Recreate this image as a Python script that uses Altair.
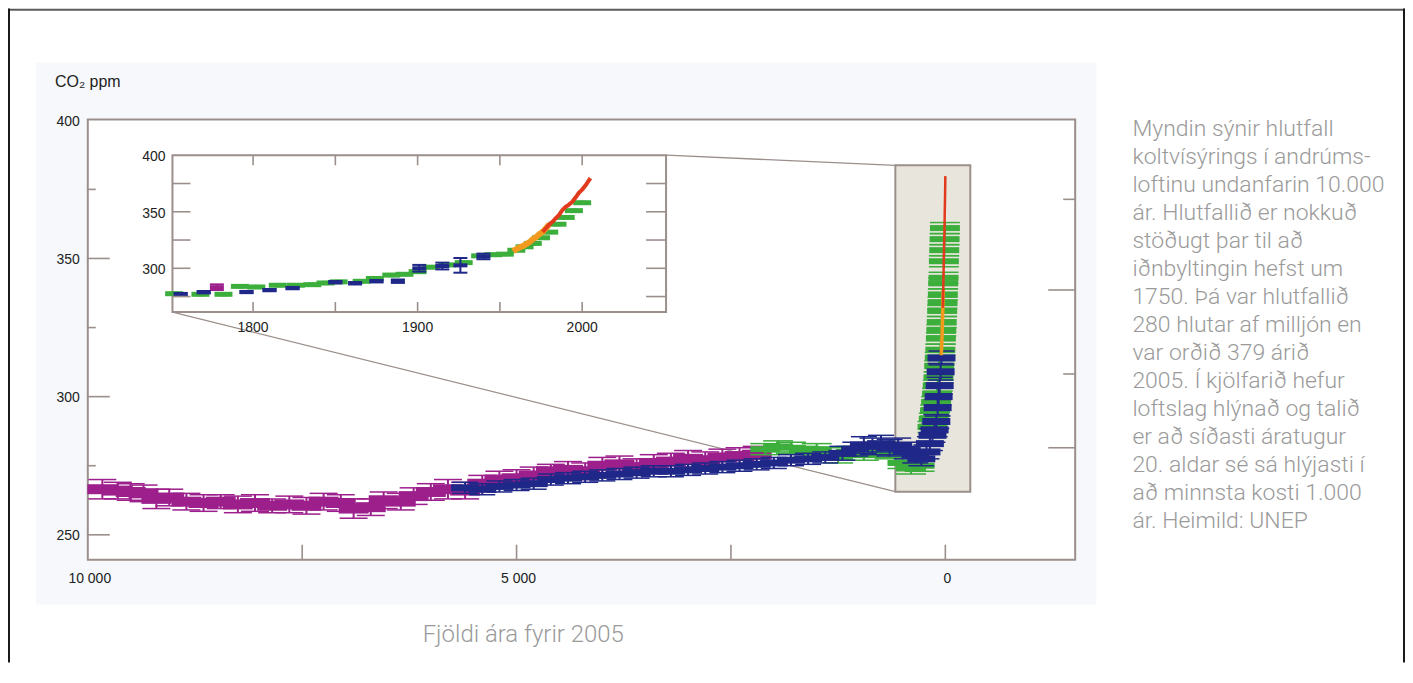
import altair as alt
import pandas as pd

# ------------------------------------------------------------------ data
# Main panel: age = years before 2005, CO2 in ppm, err = half height of bar
MAG_AGE = [9830, 9650, 9500, 9350, 9200, 9050, 8850, 8650, 8450, 8250,
           8050, 7850, 7650, 7450, 7250, 7050, 6900, 6700, 6550, 6350,
           6200, 6000, 5800, 5600, 5400, 5200, 5000, 4800, 4600, 4400,
           4200, 4000, 3800, 3600, 3400, 3200, 3000, 2800, 2600, 2400, 2200]
MAG_CO2 = [266.5, 266, 265.5, 265, 263, 263.5, 262, 261.5, 262, 261,
           261.5, 260.5, 261, 260.5, 262, 261.5, 259.5, 260, 262.5, 262,
           264, 265.5, 266.5, 266, 268.5, 270, 270.5, 271.5, 273, 273.5,
           273, 275, 275.5, 274.5, 276, 276.5, 277.5, 277, 278, 278.5, 279]
MAG_ERR = [3.5, 3, 3, 3, 3.5, 3, 3, 3, 2.5, 3,
           3, 2.5, 3, 3, 3, 3, 3.5, 3, 3, 3,
           3, 3, 3.5, 3, 3, 3, 3, 3, 2.5, 3,
           3, 3, 3, 3, 3, 3, 3, 3, 3, 3, 3]

BLU_AGE = [5600, 5400, 5200, 5000, 4800, 4600, 4400, 4200, 4000, 3800,
           3600, 3400, 3200, 3000, 2800, 2600, 2400, 2200, 2000, 1800,
           1600, 1400, 1200, 1050, 950, 850, 750, 650, 550, 450,
           350, 280, 220, 180, 150, 125, 105, 90, 78, 66, 55, 45]
BLU_CO2 = [267, 266.5, 267.5, 268, 268.5, 270, 270.5, 271, 271.5, 272,
           272.5, 273, 273, 273.5, 274, 274.5, 275, 275.5, 276, 277,
           277.5, 278, 279.5, 281, 282.5, 282, 283, 281.5, 282, 280.5,
           279, 277.5, 280, 283, 286, 288, 291, 296, 300, 304, 309, 314]
BLU_ERR = [2, 2, 2, 2, 2, 2, 2, 2, 2, 2,
           2, 2, 2, 2, 2, 2, 2, 2, 2, 2,
           2, 2, 2.5, 2.5, 3, 3, 3, 3, 3, 3,
           3, 2.5, 2.5, 2.5, 2.5, 2.5, 2.5, 3, 3, 3, 3, 2.5]

GRN_AGE = [2100, 1950, 1800, 1650, 1500, 1350, 1250, 1100, 950, 800,
           650, 500, 400, 300, 150, 135, 120, 108, 97, 88,
           80, 72, 65, 58, 52, 47, 42, 37, 33, 29,
           25, 21, 17, 13, 9, 5]
GRN_CO2 = [281, 282, 281.5, 280, 281, 279.5, 278, 280, 279, 280,
           279.5, 276, 274, 275, 289, 292, 295, 298, 301, 304,
           307, 311, 314, 317, 321, 324, 327, 331, 334, 337,
           341, 343, 349, 353, 357, 361]
GRN_ERR = [2, 2, 2, 2, 2, 2, 2, 2, 2, 2,
           2, 2, 2, 2, 2, 2, 2, 2, 2, 2,
           2, 2, 2, 2, 2, 2, 2, 2, 2, 2,
           2, 2, 2, 2, 2, 2]

# Direct atmospheric measurements (calendar years), used in both panels
ORG_YEAR = [1958, 1960, 1962, 1964, 1966, 1968, 1970, 1972, 1974, 1976, 1978, 1980]
ORG_CO2 = [315.0, 316.9, 318.4, 319.6, 321.4, 323.1, 325.7, 327.5, 330.2, 332.2, 335.4, 338.7]
RED_YEAR = [1976, 1978, 1980, 1982, 1984, 1986, 1988, 1990, 1992, 1994, 1996, 1998, 2000, 2002, 2004, 2005]
RED_CO2 = [332.2, 335.4, 338.7, 341.1, 344.4, 347.2, 351.6, 354.4, 356.4, 358.8, 362.6, 366.7, 369.6, 373.2, 377.5, 379.8]

# Inset panel (calendar years)
IN_BLU_YEAR = [1756, 1770, 1796, 1810, 1824, 1850, 1862, 1875, 1888, 1901, 1915, 1926, 1940]
IN_BLU_CO2 = [277.2, 278.9, 279, 280.7, 282.5, 287.7, 286.8, 288.6, 288.6, 300, 302, 302.6, 310.5]
IN_BLU_ERR = [1, 1, 1, 1, 1, 1, 1, 1, 1.5, 3, 3, 6.5, 2.5]
IN_MAG_YEAR = [1778]
IN_MAG_CO2 = [283.3]
IN_MAG_ERR = [2.5]
IN_GRN_YEAR = [1752, 1768, 1782, 1792, 1802, 1815, 1826, 1836, 1844, 1852,
               1866, 1874, 1884, 1892, 1900, 1908, 1918, 1928, 1938, 1946,
               1953, 1960, 1965, 1970, 1975, 1980, 1985, 1990, 1995, 2000]
IN_GRN_CO2 = [277.5, 277, 277, 284, 283.5, 285, 285, 285.5, 287, 288,
              288.5, 291, 294, 294.7, 297, 301, 303, 305, 311, 312,
              312.5, 316, 319, 322, 327, 332, 339, 345, 351, 358]
IN_GRN_ERR = [1, 1, 1, 1, 1, 1, 1, 1, 1, 1,
              1, 1, 1, 1, 1, 1, 1, 1, 1, 1,
              1, 1, 1, 1, 1, 1, 1, 1, 1, 1]

# Axes / ticks
MAIN_Y_LABELS = [250, 300, 350, 400]
MAIN_Y_MAJOR = [250, 300, 350]
MAIN_Y_MINOR = [275, 325, 375]
MAIN_X_LABELS = [10000, 5000, 0]
MAIN_X_TICKS = [7500, 5000, 2500, 0]
RIGHT_MAJOR = [281.5, 338.6]
RIGHT_MINOR = [308.2, 371.4]
INSET_Y_LABELS = [300, 350, 400]
INSET_Y_TICKS = [275, 300, 325, 350, 375]
INSET_X_LABELS = [1800, 1900, 2000]
INSET_X_TICKS = [1800, 1850, 1900, 1950, 2000]

# Zoom box in the main panel (age, ppm) and the connector lines to the inset
ZOOM_AGE = [583, -291]
ZOOM_PPM = [265.6, 383.7]
CONN_AGE0 = [9012, 3257]
CONN_PPM0 = [330.6, 387.4]
CONN_AGE1 = [583, 583]
CONN_PPM1 = [265.6, 383.7]

Y_TITLE = "CO\u2082 ppm"
X_TITLE = "Fjöldi ára fyrir 2005"
PARAGRAPH_LINES = [
    "Myndin sýnir hlutfall",
    "koltvísýrings í andrúms-",
    "loftinu undanfarin 10.000",
    "ár. Hlutfallið er nokkuð",
    "stöðugt þar til að",
    "iðnbyltingin hefst um",
    "1750. Þá var hlutfallið",
    "280 hlutar af milljón en",
    "var orðið 379 árið",
    "2005. Í kjölfarið hefur",
    "loftslag hlýnað og talið",
    "er að síðasti áratugur",
    "20. aldar sé sá hlýjasti í",
    "að minnsta kosti 1.000",
    "ár. Heimild: UNEP",
]

# ------------------------------------------------------------------ layout / style
W, H = 1399, 655
MAIN_AGE_DOMAIN = [10000, -1514]
MAIN_PPM_DOMAIN = [241, 400.25]
MAIN_X_RANGE = [79.9, 1068.7]
MAIN_Y_RANGE = [552, 111.3]
INSET_YEAR_DOMAIN = [1751, 2051]
INSET_PPM_DOMAIN = [261.3, 400]
INSET_X_RANGE = [164.7, 659]
INSET_Y_RANGE = [304, 147]

FRAME = "#9b8f8b"
BOXFILL = "#e8e5dd"
MAGENTA = "#9c1f8c"
NAVY = "#1f2888"
GREEN = "#3cae3c"
ORANGE = "#f29a1e"
RED = "#e23a1c"
LABEL_FONT = "Liberation Sans"
TEXT_FONT = "Roboto"
GREY_TEXT = "#9a9a9a"
LABEL_COLOR = "#222222"

xs = alt.Scale(domain=MAIN_AGE_DOMAIN, range=MAIN_X_RANGE, nice=False, zero=False)
ys = alt.Scale(domain=MAIN_PPM_DOMAIN, range=MAIN_Y_RANGE, nice=False, zero=False)
ixs = alt.Scale(domain=INSET_YEAR_DOMAIN, range=INSET_X_RANGE, nice=False, zero=False)
iys = alt.Scale(domain=INSET_PPM_DOMAIN, range=INSET_Y_RANGE, nice=False, zero=False)


def errorbars(df, xfield, sx, sy, color, body_w, body_t, cap_w, cap_t, stem_w):
    base = alt.Chart(df).transform_calculate(lo="datum.co2 - datum.err",
                                             hi="datum.co2 + datum.err")
    X = alt.X(f"{xfield}:Q", scale=sx, axis=None)
    stem = base.mark_rule(color=color, strokeWidth=stem_w).encode(
        x=X, y=alt.Y("lo:Q", scale=sy, axis=None), y2="hi:Q")
    caps = base.transform_fold(["lo", "hi"], as_=["k", "cap"]).mark_tick(
        orient="horizontal", size=cap_w, thickness=cap_t, color=color, opacity=1).encode(
        x=X, y=alt.Y("cap:Q", scale=sy, axis=None))
    body = base.mark_tick(orient="horizontal", size=body_w, thickness=body_t,
                          color=color, opacity=1).encode(
        x=X, y=alt.Y("co2:Q", scale=sy, axis=None))
    return [stem, caps, body]


def edge_ticks(values, along, sx, sy, edge_value, size, offset):
    df = pd.DataFrame({"v": values})
    if along == "y":
        return alt.Chart(df).mark_tick(orient="horizontal", size=size, thickness=1.6,
                                       color=FRAME, opacity=1, xOffset=offset).encode(
            x=alt.XDatum(edge_value, scale=sx, axis=None),
            y=alt.Y("v:Q", scale=sy, axis=None))
    return alt.Chart(df).mark_tick(orient="vertical", size=size, thickness=1.6,
                                   color=FRAME, opacity=1, yOffset=offset).encode(
        x=alt.X("v:Q", scale=sx, axis=None),
        y=alt.YDatum(edge_value, scale=sy, axis=None))


def edge_labels(values, along, sx, sy, edge_value, dx, dy, expr):
    df = pd.DataFrame({"v": values})
    base = alt.Chart(df).transform_calculate(lab=expr)
    if along == "y":
        return base.mark_text(font=LABEL_FONT, fontSize=14, color=LABEL_COLOR,
                              align="right", baseline="middle", dx=dx, dy=dy).encode(
            x=alt.XDatum(edge_value, scale=sx, axis=None),
            y=alt.Y("v:Q", scale=sy, axis=None), text="lab:N")
    return base.mark_text(font=LABEL_FONT, fontSize=14, color=LABEL_COLOR,
                          align="center", baseline="middle", dx=dx, dy=dy).encode(
        x=alt.X("v:Q", scale=sx, axis=None),
        y=alt.YDatum(edge_value, scale=sy, axis=None), text="lab:N")


# ------------------------------------------------------------------ main panel
main_frame_df = pd.DataFrame({"a0": [MAIN_AGE_DOMAIN[0]], "a1": [MAIN_AGE_DOMAIN[1]],
                              "p0": [MAIN_PPM_DOMAIN[0]], "p1": [MAIN_PPM_DOMAIN[1]]})
main_frame = alt.Chart(main_frame_df).mark_rect(fill="white", stroke=FRAME, strokeWidth=2).encode(
    x=alt.X("a0:Q", scale=xs, axis=None), x2="a1:Q",
    y=alt.Y("p0:Q", scale=ys, axis=None), y2="p1:Q")

zoom_df = pd.DataFrame({"a0": [ZOOM_AGE[0]], "a1": [ZOOM_AGE[1]],
                        "p0": [ZOOM_PPM[0]], "p1": [ZOOM_PPM[1]]})
zoom_box = alt.Chart(zoom_df).mark_rect(fill=BOXFILL, stroke=FRAME, strokeWidth=2).encode(
    x=alt.X("a0:Q", scale=xs, axis=None), x2="a1:Q",
    y=alt.Y("p0:Q", scale=ys, axis=None), y2="p1:Q")

conn_df = pd.DataFrame({"a0": CONN_AGE0, "p0": CONN_PPM0, "a1": CONN_AGE1, "p1": CONN_PPM1})
connectors = alt.Chart(conn_df).mark_rule(color=FRAME, strokeWidth=1.3).encode(
    x=alt.X("a0:Q", scale=xs, axis=None), x2="a1:Q",
    y=alt.Y("p0:Q", scale=ys, axis=None), y2="p1:Q")

mag_df = pd.DataFrame({"age": MAG_AGE, "co2": MAG_CO2, "err": MAG_ERR})
blu_df = pd.DataFrame({"age": BLU_AGE, "co2": BLU_CO2, "err": BLU_ERR})
grn_df = pd.DataFrame({"age": GRN_AGE, "co2": GRN_CO2, "err": GRN_ERR})
org_df = pd.DataFrame({"year": ORG_YEAR, "co2": ORG_CO2})
red_df = pd.DataFrame({"year": RED_YEAR, "co2": RED_CO2})

main_org = alt.Chart(org_df).transform_calculate(age="2005 - datum.year").mark_line(
    color=ORANGE, strokeWidth=3.5).encode(
    x=alt.X("age:Q", scale=xs, axis=None), y=alt.Y("co2:Q", scale=ys, axis=None), order="year:Q")
main_red = alt.Chart(red_df).transform_calculate(age="2005 - datum.year").mark_line(
    color=RED, strokeWidth=2.5).encode(
    x=alt.X("age:Q", scale=xs, axis=None), y=alt.Y("co2:Q", scale=ys, axis=None), order="year:Q")

main_layers = [main_frame, zoom_box, connectors]
main_layers += errorbars(mag_df, "age", xs, ys, MAGENTA, 30, 10, 28, 1.5, 2)
main_layers += errorbars(grn_df, "age", xs, ys, GREEN, 30, 6, 30, 1.5, 2)
main_layers += errorbars(blu_df, "age", xs, ys, NAVY, 28, 7, 26, 1.5, 2)
main_layers += [main_org, main_red]
main_layers += [
    edge_ticks(MAIN_Y_MAJOR, "y", xs, ys, MAIN_AGE_DOMAIN[0], 22, 11),
    edge_ticks(MAIN_Y_MINOR, "y", xs, ys, MAIN_AGE_DOMAIN[0], 8, 4),
    edge_ticks(RIGHT_MAJOR, "y", xs, ys, MAIN_AGE_DOMAIN[1], 27, -13.5),
    edge_ticks(RIGHT_MINOR, "y", xs, ys, MAIN_AGE_DOMAIN[1], 12, -6),
    edge_ticks(MAIN_X_TICKS, "x", xs, ys, MAIN_PPM_DOMAIN[0], 15, -7.5),
    edge_labels(MAIN_Y_LABELS, "y", xs, ys, MAIN_AGE_DOMAIN[0], -8, 1.5,
                "format(datum.v, 'd')"),
    edge_labels(MAIN_X_LABELS, "x", xs, ys, MAIN_PPM_DOMAIN[0], 2, 19,
                "replace(format(datum.v, ','), ',', ' ')"),
]
main_panel = alt.layer(*main_layers)

# ------------------------------------------------------------------ inset panel
inset_frame_df = pd.DataFrame({"a0": [INSET_YEAR_DOMAIN[0]], "a1": [INSET_YEAR_DOMAIN[1]],
                               "p0": [INSET_PPM_DOMAIN[0]], "p1": [INSET_PPM_DOMAIN[1]]})
inset_frame = alt.Chart(inset_frame_df).mark_rect(fill="white", stroke=FRAME, strokeWidth=2).encode(
    x=alt.X("a0:Q", scale=ixs, axis=None), x2="a1:Q",
    y=alt.Y("p0:Q", scale=iys, axis=None), y2="p1:Q")
in_blu_df = pd.DataFrame({"year": IN_BLU_YEAR, "co2": IN_BLU_CO2, "err": IN_BLU_ERR})
in_mag_df = pd.DataFrame({"year": IN_MAG_YEAR, "co2": IN_MAG_CO2, "err": IN_MAG_ERR})
in_grn_df = pd.DataFrame({"year": IN_GRN_YEAR, "co2": IN_GRN_CO2, "err": IN_GRN_ERR})

in_org = alt.Chart(org_df).mark_line(color=ORANGE, strokeWidth=6).encode(
    x=alt.X("year:Q", scale=ixs, axis=None), y=alt.Y("co2:Q", scale=iys, axis=None))
in_red = alt.Chart(red_df).mark_line(color=RED, strokeWidth=4).encode(
    x=alt.X("year:Q", scale=ixs, axis=None), y=alt.Y("co2:Q", scale=iys, axis=None))

inset_layers = [inset_frame]
inset_layers += errorbars(in_grn_df, "year", ixs, iys, GREEN, 18, 5, 8, 2, 2)
inset_layers += [in_org, in_red]
inset_layers += errorbars(in_mag_df, "year", ixs, iys, MAGENTA, 14, 4, 14, 2, 2)
inset_layers += errorbars(in_blu_df, "year", ixs, iys, NAVY, 14, 4, 14, 2, 2)
inset_layers += [
    edge_ticks(INSET_Y_TICKS, "y", ixs, iys, INSET_YEAR_DOMAIN[0], 18, 9),
    edge_ticks(INSET_Y_TICKS, "y", ixs, iys, INSET_YEAR_DOMAIN[1], 20, -10),
    edge_ticks(INSET_X_TICKS, "x", ixs, iys, INSET_PPM_DOMAIN[1], 10, 5),
    edge_ticks(INSET_X_TICKS, "x", ixs, iys, INSET_PPM_DOMAIN[0], 10, -5),
    edge_labels(INSET_Y_LABELS, "y", ixs, iys, INSET_YEAR_DOMAIN[0], -7, 2,
                "format(datum.v, 'd')"),
    edge_labels(INSET_X_LABELS, "x", ixs, iys, INSET_PPM_DOMAIN[0], 0, 16,
                "format(datum.v, 'd')"),
]
inset_panel = alt.layer(*inset_layers)

# ------------------------------------------------------------------ decorations & text
one = pd.DataFrame({"k": [0]})
panel_bg = alt.Chart(one).mark_rect(fill="#f6f8fb").encode(
    x=alt.value(28), x2=alt.value(1090), y=alt.value(54), y2=alt.value(597))
border_top = alt.Chart(one).mark_rule(color="#5a5a5a", strokeWidth=2).encode(
    x=alt.value(0), x2=alt.value(W), y=alt.value(1.3))
border_left = alt.Chart(one).mark_rule(color="#1a1a1a", strokeWidth=2).encode(
    x=alt.value(1), y=alt.value(0), y2=alt.value(H))
border_right = alt.Chart(one).mark_rule(color="#1a1a1a", strokeWidth=2).encode(
    x=alt.value(W - 1), y=alt.value(0), y2=alt.value(H))

y_title = alt.Chart(pd.DataFrame({"t": [Y_TITLE]})).mark_text(
    font=LABEL_FONT, fontSize=16, color=LABEL_COLOR, align="left", baseline="middle").encode(
    text="t:N", x=alt.value(47), y=alt.value(74))
x_title = alt.Chart(pd.DataFrame({"t": [X_TITLE]})).mark_text(
    font=TEXT_FONT, fontSize=24, fontWeight=300, color=GREY_TEXT, align="center",
    baseline="middle").encode(text="t:N", x=alt.value(516), y=alt.value(627))
paragraph = alt.Chart(pd.DataFrame({"t": ["\n".join(PARAGRAPH_LINES)]})).mark_text(
    font=TEXT_FONT, fontSize=23, fontWeight=300, color=GREY_TEXT, align="left",
    baseline="alphabetic", lineBreak="\n", lineHeight=28).encode(
    text="t:N", x=alt.value(1126), y=alt.value(128))

chart = alt.layer(
    panel_bg, main_panel, inset_panel, y_title, x_title, paragraph,
    border_top, border_left, border_right,
).resolve_scale(x="independent", y="independent").properties(
    width=W, height=H, padding=0, background="white",
    autosize=alt.AutoSizeParams(type="none"),
).configure_view(stroke=None)

chart.save("out.html", embed_options={"renderer": "svg", "actions": False})
